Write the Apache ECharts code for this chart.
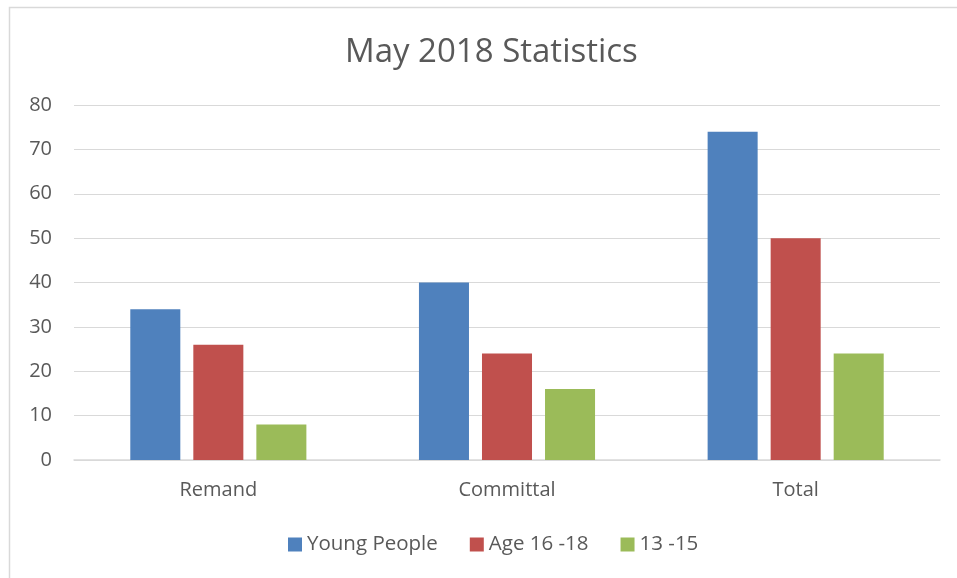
<!DOCTYPE html>
<html><head><meta charset="utf-8">
<script src="https://cdn.jsdelivr.net/npm/echarts@6/dist/echarts.min.js"></script>
<style>html,body{margin:0;padding:0;background:#fff;}#c{width:957px;height:578px;}</style>
</head><body><div id="c"></div>
<script>
const categories = ['Remand', 'Committal', 'Total'];
const youngPeople = [34, 40, 74];
const age16to18 = [26, 24, 50];
const age13to15 = [8, 16, 24];
const seriesNames = ['Young People', 'Age 16 -18', '13 -15'];
const colors = ['#4f81bd', '#c0504d', '#9bbb59'];

const chart = echarts.init(document.getElementById('c'), null, {renderer: 'canvas'});
const font = 'Open Sans, Noto Sans, sans-serif';
chart.setOption({
  animation: false,
  color: colors,
  title: {
    text: 'May 2018 Statistics', left: 340, top: 31,
    textStyle: {fontFamily: font, fontSize: 33, fontWeight: 'normal', color: '#595959'}
  },
  graphic: [{
    type: 'rect', shape: {x: 9.5, y: 7.5, width: 1000, height: 1000},
    style: {fill: 'none', stroke: '#d9d9d9', lineWidth: 1.5}, silent: true
  }],
  legend: {
    bottom: 18, left: 283, itemWidth: 14, itemHeight: 14, itemGap: 32,
    icon: 'rect',
    textStyle: {fontFamily: font, fontSize: 20.5, color: '#595959'}
  },
  grid: {left: 74, right: 17, top: 105, bottom: 118, containLabel: false},
  xAxis: {
    type: 'category', data: categories,
    axisLine: {lineStyle: {color: '#d9d9d9', width: 1.5}},
    axisTick: {show: false},
    axisLabel: {fontFamily: font, fontSize: 20, color: '#595959', margin: 20}
  },
  yAxis: {
    type: 'value', min: 0, max: 80, interval: 10,
    axisLine: {show: false}, axisTick: {show: false},
    splitLine: {lineStyle: {color: '#d9d9d9', width: 1.2}},
    axisLabel: {fontFamily: font, fontSize: 20, color: '#595959', margin: 22}
  },
  series: [
    {name: seriesNames[0], type: 'bar', data: youngPeople, barGap: '26%', barCategoryGap: '39%'},
    {name: seriesNames[1], type: 'bar', data: age16to18},
    {name: seriesNames[2], type: 'bar', data: age13to15}
  ]
});
</script></body></html>
